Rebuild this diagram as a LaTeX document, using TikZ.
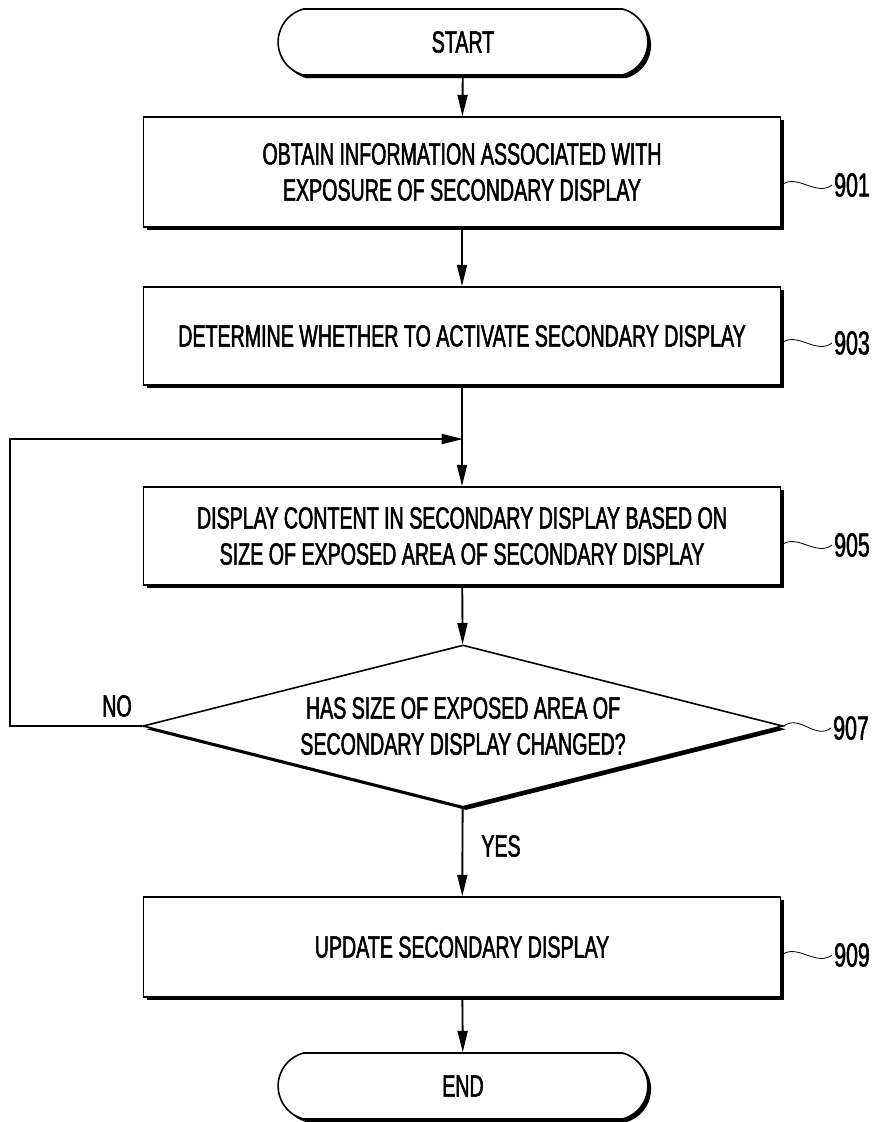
\documentclass[tikz,border=0pt]{standalone}
\usepackage{fontspec}
\newfontfamily\patfont{Liberation Sans}[FakeStretch=0.64, FakeBold=1.6]
\usetikzlibrary{shapes.geometric,shapes.misc,shadows,arrows.meta}

\begin{document}
\begin{tikzpicture}[x=0.75pt,y=-0.75pt,
            txt/.style={font=\patfont\fontsize{23}{27}\selectfont, align=center},
            lbl/.style={font=\patfont\fontsize{25}{30}\selectfont, inner sep=1.5pt},
            shd/.style={drop shadow={shadow xshift=2.4pt, shadow yshift=-2.4pt, opacity=1, fill=black}},
            box/.style={txt, draw=black, fill=white, line width=1.2pt, rectangle, minimum width=478pt, shd},
            term/.style={txt, draw=black, fill=white, line width=1.2pt, rounded rectangle, rounded rectangle arc length=150, minimum width=284pt, minimum height=49.5pt, shd},
            cond/.style={txt, draw=black, fill=white, line width=1.2pt, diamond, aspect=4, inner sep=0pt, minimum width=480pt, minimum height=121.5pt, shd},
            arr/.style={draw=black, line width=1.4pt, -{Triangle[length=16pt, width=7.5pt]}},
            sq/.style={draw=black, line width=0.6pt}]
            \useasboundingbox (0,0) rectangle (877,1122);
            % steps
            \node[term] (start) at (463,42) {START};
            \node[box, minimum height=82.5pt] (b901) at (462,172) {OBTAIN INFORMATION ASSOCIATED WITH\\EXPOSURE OF SECONDARY DISPLAY};
            \node[box, minimum height=73.5pt] (b903) at (462,336) {DETERMINE WHETHER TO ACTIVATE SECONDARY DISPLAY};
            \node[box, minimum height=73.5pt] (b905) at (462,536) {DISPLAY CONTENT IN SECONDARY DISPLAY BASED ON\\SIZE OF EXPOSED AREA OF SECONDARY DISPLAY};
            \node[cond] (d907) at (463,726) {HAS SIZE OF EXPOSED AREA OF\\SECONDARY DISPLAY CHANGED?};
            \node[box, minimum height=75pt] (b909) at (462,947) {UPDATE SECONDARY DISPLAY};
            \node[term] (end) at (463,1086) {END};
            % reference numerals
            \node[lbl] (l901) at (852,185) {901};
            \node[lbl] (l903) at (852,343) {903};
            \node[lbl] (l905) at (852,545) {905};
            \node[lbl] (l907) at (851,728) {907};
            \node[lbl] (l909) at (852,955) {909};
            \node[txt] (no) at (117,706) {NO};
            \node[txt] (yes) at (501,846) {YES};
            \coordinate (join) at (463,439);
            \coordinate (loopc) at (10,726);
            % flow
            \draw[arr] (start) -- (b901);
            \draw[arr] (b901) -- (b903);
            \draw[arr] (b903) -- (b905);
            \draw[arr] (b905) -- (d907);
            \draw[arr] (d907) -- (b909);
            \draw[arr] (b909) -- (end);
            \draw[arr] (d907.west) -- (loopc) |- (join);
            % leaders
            \draw[sq] (b901.east |- l901) .. controls +(16,-12) and +(-16,12) .. (l901.west);
            \draw[sq] (b903.east |- l903) .. controls +(16,-12) and +(-16,12) .. (l903.west);
            \draw[sq] (b905.east |- l905) .. controls +(16,-12) and +(-16,12) .. (l905.west);
            \draw[sq] (d907.east) .. controls +(16,-12) and +(-16,12) .. (l907.west);
            \draw[sq] (b909.east |- l909) .. controls +(16,-12) and +(-16,12) .. (l909.west);
\end{tikzpicture}
\end{document}
